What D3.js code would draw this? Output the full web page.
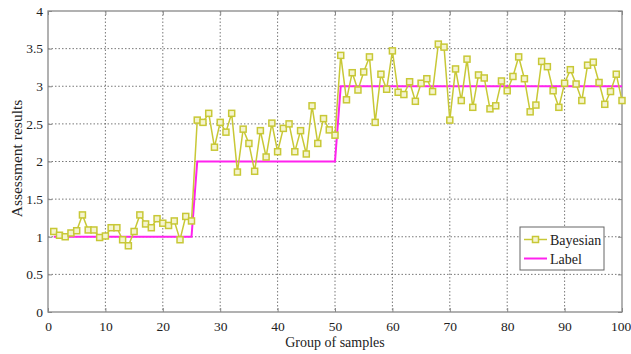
<!DOCTYPE html>
<html>
<head>
<meta charset="utf-8">
<script src="https://cdn.jsdelivr.net/npm/d3@7"></script>
<style>
  body { margin: 0; background: #fff; }
  svg { display: block; font-family: "Liberation Serif", "DejaVu Serif", serif; }
  .grid line { stroke: #555; stroke-dasharray: 1.5,2; stroke-width: 0.8; }
  .axis path, .axis line { stroke: #888; }
  .axis text { fill: #222; font-size: 13.5px; font-family: "Liberation Serif", serif; }
</style>
</head>
<body>
<svg id="chart" width="631" height="354"></svg>
<script>
// sample index 1..100
const samples = d3.range(1, 101);

// Bayesian assessment results
const bayesian = [
  1.07, 1.02, 1.00, 1.05, 1.08, 1.29, 1.09, 1.09, 0.99, 1.01,
  1.12, 1.12, 0.96, 0.88, 1.07, 1.29, 1.17, 1.12, 1.24, 1.18,
  1.15, 1.21, 0.96, 1.27, 1.21, 2.55, 2.52, 2.64, 2.19, 2.52,
  2.39, 2.64, 1.86, 2.43, 2.24, 1.87, 2.41, 2.06, 2.51, 2.13,
  2.44, 2.50, 2.13, 2.41, 2.10, 2.74, 2.24, 2.57, 2.42, 2.35,
  3.41, 2.82, 3.18, 2.95, 3.19, 3.39, 2.52, 3.16, 2.96, 3.47,
  2.92, 2.89, 3.06, 2.80, 3.04, 3.10, 2.93, 3.56, 3.52, 2.55,
  3.23, 2.81, 3.36, 2.72, 3.15, 3.11, 2.70, 2.74, 3.07, 2.94,
  3.13, 3.39, 3.10, 2.66, 2.75, 3.33, 3.26, 2.94, 2.72, 3.04,
  3.22, 3.03, 2.81, 3.28, 3.32, 3.05, 2.76, 2.93, 3.16, 2.81
];

// true labels
const labels = samples.map(i => i <= 25 ? 1 : i <= 50 ? 2 : 3);

const xTicks = [0, 10, 20, 30, 40, 50, 60, 70, 80, 90, 100];
const yTicks = [0, 0.5, 1, 1.5, 2, 2.5, 3, 3.5, 4];

const margin = { top: 11, right: 9, bottom: 42, left: 48 };
const W = 631, H = 354;
const width = W - margin.left - margin.right;
const height = H - margin.top - margin.bottom;

const svg = d3.select('#chart');
const g = svg.append('g').attr('transform', `translate(${margin.left},${margin.top})`);

const x = d3.scaleLinear().domain([0, 100]).range([0, width]);
const y = d3.scaleLinear().domain([0, 4]).range([height, 0]);

// grid
const grid = g.append('g').attr('class', 'grid');
grid.selectAll('.gx').data(xTicks.slice(1, -1)).enter().append('line')
  .attr('x1', d => x(d)).attr('x2', d => x(d))
  .attr('y1', 0).attr('y2', height);
grid.selectAll('.gy').data(yTicks.slice(1, -1)).enter().append('line')
  .attr('y1', d => y(d)).attr('y2', d => y(d))
  .attr('x1', 0).attr('x2', width);

// axes (ticks pointing inward like matlab)
g.append('g').attr('class', 'axis')
  .attr('transform', `translate(0,${height})`)
  .call(d3.axisBottom(x).tickValues(xTicks).tickSize(-4).tickPadding(9).tickFormat(d3.format('d')))
  .call(s => s.select('.domain').remove())
  .call(s => s.selectAll('text').filter(d => d === 100).attr('dx', -1.5));
g.append('g').attr('class', 'axis')
  .call(d3.axisLeft(y).tickValues(yTicks).tickSize(-4).tickPadding(5).tickFormat(d => d))
  .call(s => s.select('.domain').remove());
g.append('g').attr('class', 'axis')
  .attr('transform', `translate(${width},0)`)
  .call(d3.axisRight(y).tickValues(yTicks).tickSize(-4).tickFormat(''))
  .call(s => s.select('.domain').remove());
g.append('g').attr('class', 'axis')
  .call(d3.axisTop(x).tickValues(xTicks).tickSize(-4).tickFormat(''))
  .call(s => s.select('.domain').remove());

g.append('rect')
  .attr('width', width).attr('height', height)
  .attr('fill', 'none').attr('stroke', '#888').attr('stroke-width', 1.3);

// lines
const line = d3.line().x((d, i) => x(samples[i])).y(d => y(d));

g.append('path').datum(labels)
  .attr('fill', 'none').attr('stroke', '#ff22ee').attr('stroke-width', 2)
  .attr('d', line);

g.append('path').datum(bayesian)
  .attr('fill', 'none').attr('stroke', '#c8c836').attr('stroke-width', 1.5)
  .attr('d', line);

g.selectAll('rect.mk').data(bayesian).enter().append('rect')
  .attr('class', 'mk')
  .attr('x', (d, i) => x(samples[i]) - 3)
  .attr('y', d => y(d) - 3)
  .attr('width', 6).attr('height', 6)
  .attr('fill', '#f4f4d0').attr('stroke', '#c8c836').attr('stroke-width', 1.5);

// legend
const lg = svg.append('g').attr('transform', 'translate(520,227)');
lg.append('rect').attr('width', 84).attr('height', 43)
  .attr('fill', '#fff').attr('stroke', '#666').attr('stroke-width', 1);
lg.append('line').attr('x1', 4).attr('x2', 27).attr('y1', 12.5).attr('y2', 12.5)
  .attr('stroke', '#c8c836').attr('stroke-width', 1.5);
lg.append('rect').attr('x', 12.5).attr('y', 9.5).attr('width', 6).attr('height', 6)
  .attr('fill', '#f4f4d0').attr('stroke', '#c8c836').attr('stroke-width', 1.5);
lg.append('text').attr('x', 30).attr('y', 17.5).attr('font-size', 14).attr('fill', '#222').text('Bayesian');
lg.append('line').attr('x1', 4).attr('x2', 27).attr('y1', 31.5).attr('y2', 31.5)
  .attr('stroke', '#ff22ee').attr('stroke-width', 2);
lg.append('text').attr('x', 30).attr('y', 36.5).attr('font-size', 14).attr('fill', '#222').text('Label');

// axis titles
svg.append('text')
  .attr('x', margin.left + width / 2).attr('y', 347)
  .attr('text-anchor', 'middle').attr('font-size', 14).attr('fill', '#222')
  .text('Group of samples');
svg.append('text')
  .attr('transform', `translate(22,${margin.top + height / 2 - 3}) rotate(-90)`)
  .attr('text-anchor', 'middle').attr('font-size', 15.5).attr('fill', '#222')
  .text('Assessment results');
</script>
</body>
</html>
